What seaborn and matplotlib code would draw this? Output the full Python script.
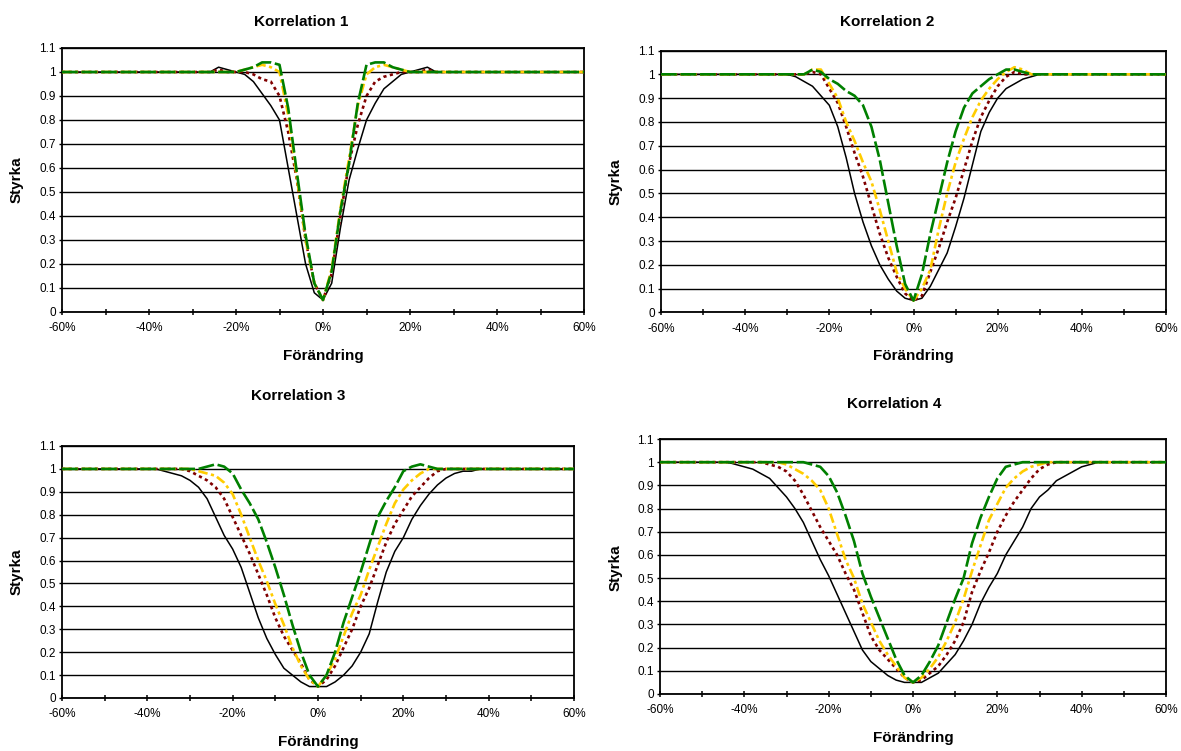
import matplotlib
matplotlib.use("Agg")
import matplotlib.pyplot as plt
import seaborn as sns
import pandas as pd

# ---------------- data ----------------
change_pct = [-60, -58, -56, -54, -52, -50, -48, -46, -44, -42, -40, -38, -36, -34, -32, -30,
              -28, -26, -24, -22, -20, -18, -16, -14, -12, -10, -8, -6, -4, -2, 0,
              2, 4, 6, 8, 10, 12, 14, 16, 18, 20, 22, 24, 26, 28, 30,
              32, 34, 36, 38, 40, 42, 44, 46, 48, 50, 52, 54, 56, 58, 60]

# Korrelation 1
k1_black = [1.00, 1.00, 1.00, 1.00, 1.00, 1.00, 1.00, 1.00, 1.00, 1.00, 1.00, 1.00, 1.00, 1.00, 1.00, 1.00, 1.00,
            1.00, 1.02, 1.01, 1.00, 0.99, 0.96, 0.91, 0.86, 0.80, 0.60, 0.40, 0.20, 0.08,
            0.05,
            0.12, 0.35, 0.55, 0.68, 0.80, 0.87, 0.93, 0.96, 0.99, 1.00, 1.01, 1.02, 1.00,
            1.00, 1.00, 1.00, 1.00, 1.00, 1.00, 1.00, 1.00, 1.00, 1.00, 1.00, 1.00, 1.00, 1.00, 1.00, 1.00, 1.00]
k1_red = [1.00, 1.00, 1.00, 1.00, 1.00, 1.00, 1.00, 1.00, 1.00, 1.00, 1.00, 1.00, 1.00, 1.00, 1.00, 1.00, 1.00,
          1.00, 1.01, 1.00, 1.00, 1.00, 0.99, 0.97, 0.96, 0.90, 0.75, 0.55, 0.30, 0.12,
          0.05,
          0.16, 0.40, 0.62, 0.78, 0.90, 0.96, 0.98, 0.99, 1.00, 1.00, 1.00, 1.01, 1.00,
          1.00, 1.00, 1.00, 1.00, 1.00, 1.00, 1.00, 1.00, 1.00, 1.00, 1.00, 1.00, 1.00, 1.00, 1.00, 1.00, 1.00]
k1_yellow = [1.00, 1.00, 1.00, 1.00, 1.00, 1.00, 1.00, 1.00, 1.00, 1.00, 1.00, 1.00, 1.00, 1.00, 1.00, 1.00, 1.00,
             1.00, 1.00, 1.00, 1.00, 1.01, 1.02, 1.03, 1.02, 1.00, 0.82, 0.56, 0.30, 0.12,
             0.05,
             0.18, 0.43, 0.64, 0.86, 0.99, 1.02, 1.03, 1.02, 1.01, 1.00, 1.00, 1.00, 1.00,
             1.00, 1.00, 1.00, 1.00, 1.00, 1.00, 1.00, 1.00, 1.00, 1.00, 1.00, 1.00, 1.00, 1.00, 1.00, 1.00, 1.00]
k1_green = [1.00, 1.00, 1.00, 1.00, 1.00, 1.00, 1.00, 1.00, 1.00, 1.00, 1.00, 1.00, 1.00, 1.00, 1.00, 1.00, 1.00,
            1.00, 1.00, 1.00, 1.00, 1.01, 1.02, 1.04, 1.04, 1.03, 0.85, 0.58, 0.32, 0.12,
            0.05,
            0.17, 0.42, 0.62, 0.87, 1.03, 1.04, 1.04, 1.02, 1.01, 1.00, 1.00, 1.00, 1.00,
            1.00, 1.00, 1.00, 1.00, 1.00, 1.00, 1.00, 1.00, 1.00, 1.00, 1.00, 1.00, 1.00, 1.00, 1.00, 1.00, 1.00]

# Korrelation 2
k2_black = [1.00, 1.00, 1.00, 1.00, 1.00, 1.00, 1.00, 1.00, 1.00, 1.00, 1.00, 1.00, 1.00,
            1.00, 1.00, 1.00, 0.99, 0.97, 0.95, 0.91, 0.87, 0.78, 0.65, 0.50, 0.38, 0.28, 0.20, 0.14, 0.09, 0.06,
            0.05,
            0.06, 0.11, 0.18, 0.25, 0.36, 0.48, 0.62, 0.76, 0.84, 0.90, 0.94, 0.96, 0.98, 0.99, 1.00, 1.00, 1.00,
            1.00, 1.00, 1.00, 1.00, 1.00, 1.00, 1.00, 1.00, 1.00, 1.00, 1.00, 1.00, 1.00]
k2_red = [1.00, 1.00, 1.00, 1.00, 1.00, 1.00, 1.00, 1.00, 1.00, 1.00, 1.00, 1.00, 1.00,
          1.00, 1.00, 1.00, 1.00, 1.00, 1.01, 1.00, 0.94, 0.88, 0.78, 0.67, 0.57, 0.45, 0.33, 0.23, 0.15, 0.08,
          0.05,
          0.07, 0.17, 0.27, 0.38, 0.48, 0.60, 0.72, 0.82, 0.89, 0.95, 0.99, 1.01, 1.00, 1.00, 1.00, 1.00, 1.00,
          1.00, 1.00, 1.00, 1.00, 1.00, 1.00, 1.00, 1.00, 1.00, 1.00, 1.00, 1.00, 1.00]
k2_yellow = [1.00, 1.00, 1.00, 1.00, 1.00, 1.00, 1.00, 1.00, 1.00, 1.00, 1.00, 1.00, 1.00,
             1.00, 1.00, 1.00, 1.00, 1.00, 1.02, 1.02, 0.96, 0.90, 0.80, 0.72, 0.63, 0.55, 0.43, 0.30, 0.17, 0.10,
             0.05,
             0.10, 0.18, 0.35, 0.50, 0.63, 0.73, 0.82, 0.89, 0.94, 0.98, 1.01, 1.03, 1.02, 1.00, 1.00, 1.00, 1.00,
             1.00, 1.00, 1.00, 1.00, 1.00, 1.00, 1.00, 1.00, 1.00, 1.00, 1.00, 1.00, 1.00]
k2_green = [1.00, 1.00, 1.00, 1.00, 1.00, 1.00, 1.00, 1.00, 1.00, 1.00, 1.00, 1.00, 1.00,
            1.00, 1.00, 1.00, 1.00, 1.00, 1.02, 1.01, 0.98, 0.96, 0.93, 0.91, 0.87, 0.78, 0.64, 0.46, 0.28, 0.12,
            0.05,
            0.16, 0.33, 0.48, 0.63, 0.76, 0.86, 0.92, 0.95, 0.98, 1.00, 1.02, 1.02, 1.01, 1.00, 1.00, 1.00, 1.00,
            1.00, 1.00, 1.00, 1.00, 1.00, 1.00, 1.00, 1.00, 1.00, 1.00, 1.00, 1.00, 1.00]

# Korrelation 3
k3_black = [1.00, 1.00, 1.00, 1.00, 1.00, 1.00, 1.00, 1.00, 1.00, 1.00,
            1.00, 1.00, 0.99, 0.98, 0.97, 0.95, 0.92, 0.87, 0.79, 0.71, 0.65, 0.57, 0.46, 0.35, 0.26, 0.19, 0.13, 0.10, 0.07, 0.05,
            0.05,
            0.05, 0.07, 0.10, 0.14, 0.20, 0.28, 0.42, 0.55, 0.64, 0.70, 0.78, 0.84, 0.89, 0.93, 0.96, 0.98, 0.99, 0.99, 1.00, 1.00,
            1.00, 1.00, 1.00, 1.00, 1.00, 1.00, 1.00, 1.00, 1.00, 1.00]
k3_red = [1.00, 1.00, 1.00, 1.00, 1.00, 1.00, 1.00, 1.00, 1.00, 1.00,
          1.00, 1.00, 1.00, 1.00, 1.00, 0.99, 0.97, 0.95, 0.92, 0.87, 0.79, 0.71, 0.63, 0.54, 0.45, 0.35, 0.27, 0.21, 0.15, 0.08,
          0.05,
          0.08, 0.14, 0.22, 0.30, 0.40, 0.48, 0.58, 0.68, 0.76, 0.82, 0.88, 0.92, 0.96, 0.99, 1.00, 1.00, 1.00, 1.00, 1.00, 1.00,
          1.00, 1.00, 1.00, 1.00, 1.00, 1.00, 1.00, 1.00, 1.00, 1.00]
k3_yellow = [1.00, 1.00, 1.00, 1.00, 1.00, 1.00, 1.00, 1.00, 1.00, 1.00,
             1.00, 1.00, 1.00, 1.00, 1.00, 1.00, 0.99, 0.98, 0.97, 0.94, 0.89, 0.80, 0.70, 0.60, 0.51, 0.41, 0.32, 0.22, 0.14, 0.08,
             0.05,
             0.10, 0.17, 0.27, 0.37, 0.45, 0.56, 0.66, 0.76, 0.85, 0.91, 0.95, 0.98, 1.00, 1.00, 1.00, 1.00, 1.00, 1.00, 1.00, 1.00,
             1.00, 1.00, 1.00, 1.00, 1.00, 1.00, 1.00, 1.00, 1.00, 1.00]
k3_green = [1.00, 1.00, 1.00, 1.00, 1.00, 1.00, 1.00, 1.00, 1.00, 1.00,
            1.00, 1.00, 1.00, 1.00, 1.00, 1.00, 1.00, 1.01, 1.02, 1.01, 0.98, 0.91, 0.85, 0.78, 0.68, 0.57, 0.45, 0.32, 0.20, 0.10,
            0.05,
            0.10, 0.20, 0.33, 0.44, 0.55, 0.67, 0.79, 0.86, 0.92, 0.99, 1.01, 1.02, 1.01, 1.00, 1.00, 1.00, 1.00, 1.00, 1.00, 1.00,
            1.00, 1.00, 1.00, 1.00, 1.00, 1.00, 1.00, 1.00, 1.00, 1.00]

# Korrelation 4
k4_black = [1.00, 1.00, 1.00, 1.00, 1.00, 1.00, 1.00,
            1.00, 1.00, 0.99, 0.98, 0.97, 0.95, 0.93, 0.89, 0.85, 0.80, 0.74, 0.66, 0.58, 0.51, 0.43, 0.35, 0.27, 0.19, 0.14, 0.11, 0.08, 0.06, 0.05,
            0.05,
            0.05, 0.07, 0.09, 0.13, 0.17, 0.23, 0.30, 0.39, 0.46, 0.52, 0.60, 0.66, 0.72, 0.80, 0.85, 0.88, 0.92, 0.94, 0.96, 0.98, 0.99, 1.00, 1.00,
            1.00, 1.00, 1.00, 1.00, 1.00, 1.00, 1.00]
k4_red = [1.00, 1.00, 1.00, 1.00, 1.00, 1.00, 1.00,
          1.00, 1.00, 1.00, 1.00, 1.00, 1.00, 0.99, 0.98, 0.96, 0.92, 0.86, 0.79, 0.72, 0.66, 0.60, 0.52, 0.45, 0.35, 0.25, 0.19, 0.15, 0.11, 0.07,
          0.05,
          0.06, 0.09, 0.12, 0.17, 0.23, 0.31, 0.44, 0.53, 0.61, 0.70, 0.77, 0.83, 0.88, 0.93, 0.97, 0.99, 1.00, 1.00, 1.00, 1.00, 1.00, 1.00, 1.00,
          1.00, 1.00, 1.00, 1.00, 1.00, 1.00, 1.00]
k4_yellow = [1.00, 1.00, 1.00, 1.00, 1.00, 1.00, 1.00,
             1.00, 1.00, 1.00, 1.00, 1.00, 1.00, 1.00, 1.00, 0.99, 0.97, 0.95, 0.92, 0.88, 0.80, 0.69, 0.58, 0.50, 0.39, 0.31, 0.23, 0.17, 0.12, 0.07,
             0.05,
             0.07, 0.11, 0.16, 0.23, 0.31, 0.41, 0.53, 0.64, 0.75, 0.82, 0.89, 0.93, 0.96, 0.98, 0.99, 1.00, 1.00, 1.00, 1.00, 1.00, 1.00, 1.00, 1.00,
             1.00, 1.00, 1.00, 1.00, 1.00, 1.00, 1.00]
k4_green = [1.00, 1.00, 1.00, 1.00, 1.00, 1.00, 1.00,
            1.00, 1.00, 1.00, 1.00, 1.00, 1.00, 1.00, 1.00, 1.00, 1.00, 1.00, 0.99, 0.98, 0.94, 0.87, 0.77, 0.66, 0.52, 0.42, 0.33, 0.24, 0.15, 0.08,
            0.05,
            0.08, 0.14, 0.21, 0.31, 0.41, 0.50, 0.65, 0.76, 0.85, 0.93, 0.98, 0.99, 1.00, 1.00, 1.00, 1.00, 1.00, 1.00, 1.00, 1.00, 1.00, 1.00, 1.00,
            1.00, 1.00, 1.00, 1.00, 1.00, 1.00, 1.00]

panel_titles = ["Korrelation 1", "Korrelation 2", "Korrelation 3", "Korrelation 4"]
series_names = ["svart", "röd", "gul", "grön"]
x_label = "Förändring"
y_label = "Styrka"
x_major_ticks = [-60, -40, -20, 0, 20, 40, 60]
x_major_labels = ["-60%", "-40%", "-20%", "0%", "20%", "40%", "60%"]
x_minor_ticks = [-50, -30, -10, 10, 30, 50]
y_ticks = [0, 0.1, 0.2, 0.3, 0.4, 0.5, 0.6, 0.7, 0.8, 0.9, 1.0, 1.1]
y_tick_labels = ["0", "0.1", "0.2", "0.3", "0.4", "0.5", "0.6", "0.7", "0.8", "0.9", "1", "1.1"]

panels = [
    [k1_black, k1_red, k1_yellow, k1_green],
    [k2_black, k2_red, k2_yellow, k2_green],
    [k3_black, k3_red, k3_yellow, k3_green],
    [k4_black, k4_red, k4_yellow, k4_green],
]

# ---------------- style ----------------
sns.set_theme(style="white")
plt.rcParams["font.family"] = ["Liberation Sans", "DejaVu Sans"]

series_style = {
    "svart": dict(color="#000000", lw=1.1, ls="-"),
    "röd": dict(color="#800000", lw=1.9, ls=(0, (1.2, 1.3))),
    "gul": dict(color="#FFCC00", lw=1.9, ls=(0, (3.6, 1.3, 1.2, 1.3))),
    "grön": dict(color="#008000", lw=1.9, ls=(0, (6.0, 1.4))),
}

W, H = 1181, 751
# (left, right, top, bottom) of plot areas in pixels
boxes = [(62, 584, 48, 312), (661, 1166, 50.5, 312.5), (62, 574, 446, 698), (660, 1166, 439, 694)]
title_pos = [(301, 22), (887, 22), (298, 396), (894, 404)]
xlabel_y = [356, 356, 742, 738]
ylabel_pos = [(17, 180), (616, 182), (17, 572), (616, 568)]

fig = plt.figure(figsize=(W / 100, H / 100), dpi=100)
fig.patch.set_facecolor("white")

for i, series_list in enumerate(panels):
    l, r, t, b = boxes[i]
    ax = fig.add_axes([l / W, 1 - b / H, (r - l) / W, (b - t) / H])
    ax.set_facecolor("white")

    rows = []
    for name, vals in zip(series_names, series_list):
        assert len(vals) == len(change_pct)
        for xv, yv in zip(change_pct, vals):
            rows.append({"Förändring": xv, "Styrka": yv, "serie": name})
    df = pd.DataFrame(rows)

    for name in series_names:
        st = series_style[name]
        sns.lineplot(data=df[df["serie"] == name], x="Förändring", y="Styrka",
                     ax=ax, color=st["color"], linewidth=st["lw"], linestyle=st["ls"],
                     estimator=None, sort=False, legend=False, zorder=3)

    ax.set_xlim(-60, 60)
    ax.set_ylim(0, 1.1)
    ax.set_xticks(x_major_ticks)
    ax.set_xticklabels(x_major_labels)
    ax.set_xticks(x_minor_ticks, minor=True)
    ax.set_yticks(y_ticks)
    ax.set_yticklabels(y_tick_labels)

    ax.yaxis.grid(True, color="black", linewidth=1.0)
    ax.xaxis.grid(False)
    ax.set_axisbelow(True)

    ax.tick_params(axis="x", which="both", direction="inout", length=5, width=1.1,
                   color="black", labelsize=8.5, pad=5, bottom=True)
    ax.tick_params(axis="y", which="major", direction="out", length=2.5, width=1.0,
                   color="black", labelsize=8.5, pad=2, left=True)
    for lab in ax.get_xticklabels() + ax.get_yticklabels():
        lab.set_color("black")

    for sp in ax.spines.values():
        sp.set_visible(True)
        sp.set_color("black")
        sp.set_linewidth(1.3)

    ax.set_xlabel(x_label, fontsize=11, fontweight="bold", color="black", va="center")
    ax.xaxis.set_label_coords(0.5, (b - xlabel_y[i]) / (b - t))
    ax.set_ylabel(y_label, fontsize=11, fontweight="bold", color="black", va="center")
    yl_x, yl_y = ylabel_pos[i]
    ax.yaxis.set_label_coords((yl_x - l) / (r - l), (b - yl_y) / (b - t))

    tx, ty = title_pos[i]
    fig.text(tx / W, 1 - ty / H, panel_titles[i], ha="center", va="center",
             fontsize=11, fontweight="bold", color="black")

fig.savefig("out.png", dpi=100, facecolor="white")
